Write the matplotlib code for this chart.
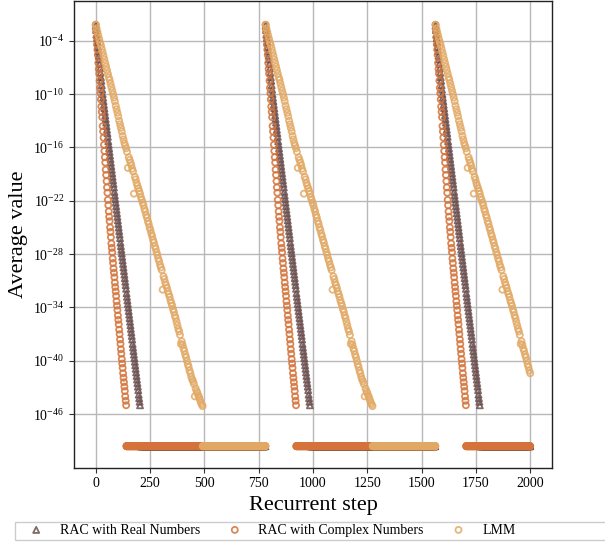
import numpy as np
import matplotlib
matplotlib.use("Agg")
import matplotlib.pyplot as plt
from matplotlib.patches import Rectangle
from matplotlib.ticker import FixedLocator, NullLocator

plt.rcParams['font.family'] = ['Liberation Serif', 'DejaVu Serif']
plt.rcParams['mathtext.fontset'] = 'stix'

# training restarts at these steps, run stops at LAST_STEP
CYCLE_START = [0, 782, 1564]
LAST_STEP = 2000
FLOOR_LOG = -49.6  # value once a method has converged

# log10 of the average value, RAC complex, one entry every 2 steps
COMPLEX_EVERY = 2
COMPLEX_LOG = [
    -2.2, -2.9, -3.6, -4.4, -5.0, -5.6, -6.5, -7.2, -7.7, -8.5,
    -9.3, -9.9, -10.6, -11.4, -12.0, -12.6, -13.6, -14.2, -14.9, -15.7,
    -16.4, -17.1, -17.7, -18.5, -19.1, -19.8, -20.5, -21.1, -21.9, -22.5,
    -23.2, -23.8, -24.3, -25.0, -25.5, -26.1, -26.8, -27.3, -27.8, -28.5,
    -29.0, -29.6, -30.1, -30.6, -31.2, -31.7, -32.2, -32.7, -33.3, -33.8,
    -34.3, -34.9, -35.4, -35.9, -36.5, -37.0, -37.6, -38.1, -38.7, -39.2,
    -39.8, -40.3, -40.8, -41.4, -41.9, -42.4, -42.9, -43.4, -44.0, -44.5,
    -45.0,
]

# RAC real, one entry every 2 steps
REAL_EVERY = 2
REAL_LOG = [
    -2.3, -2.8, -3.3, -3.7, -4.2, -4.7, -5.2, -5.7, -6.1, -6.6,
    -7.1, -7.6, -8.1, -8.5, -9.0, -9.5, -10.0, -10.4, -10.8, -11.2,
    -11.6, -12.0, -12.4, -12.8, -13.2, -13.6, -14.0, -14.4, -14.8, -15.3,
    -15.7, -16.1, -16.5, -16.9, -17.3, -17.7, -18.1, -18.5, -18.9, -19.3,
    -19.7, -20.1, -20.5, -21.0, -21.4, -21.8, -22.2, -22.6, -23.0, -23.4,
    -23.8, -24.2, -24.6, -25.0, -25.4, -25.8, -26.2, -26.7, -27.1, -27.5,
    -27.9, -28.3, -28.7, -29.1, -29.5, -29.9, -30.3, -30.7, -31.1, -31.5,
    -31.9, -32.4, -32.8, -33.2, -33.6, -34.0, -34.4, -34.8, -35.2, -35.6,
    -36.0, -36.4, -36.8, -37.2, -37.6, -38.1, -38.5, -38.9, -39.3, -39.7,
    -40.1, -40.5, -40.9, -41.3, -41.7, -42.1, -42.5, -42.9, -43.3, -43.8,
    -44.2, -44.6, -45.0,
]

# LMM, one entry every 4 steps
LMM_EVERY = 4
LMM_LOG = [
    -2.2, -2.6, -3.0, -3.4, -3.8, -4.2, -4.5, -4.9, -5.3, -5.7,
    -6.1, -6.5, -6.9, -7.3, -7.7, -8.1, -8.4, -8.8, -9.2, -9.6,
    -10.0, -10.4, -10.8, -11.3, -11.7, -12.1, -12.5, -13.0, -13.4, -13.8,
    -14.2, -14.7, -15.1, -15.5, -15.8, -16.1, -16.5, -18.3, -17.1, -17.4,
    -17.7, -18.0, -18.4, -18.7, -21.2, -19.3, -19.6, -20.0, -20.3, -20.6,
    -20.9, -21.2, -21.6, -21.9, -22.2, -22.5, -22.9, -23.2, -23.6, -23.9,
    -24.3, -24.6, -25.0, -25.3, -25.7, -26.0, -26.4, -26.7, -27.1, -27.4,
    -27.8, -28.1, -28.5, -28.8, -29.2, -29.5, -29.8, -32.0, -30.5, -30.8,
    -31.2, -31.5, -31.8, -32.2, -32.5, -32.8, -33.2, -33.5, -33.8, -34.2,
    -34.5, -34.9, -35.2, -35.6, -36.0, -36.4, -36.7, -37.1, -38.1, -37.8,
    -38.2, -38.6, -38.9, -39.3, -39.6, -40.0, -40.4, -40.7, -41.1, -41.4,
    -41.8, -42.1, -42.3, -42.6, -44.0, -43.1, -43.4, -43.6, -43.9, -44.1,
    -44.4, -44.7, -44.9, -45.1,
]

LABELS = ['RAC with Real Numbers', 'RAC with Complex Numbers', 'LMM']
COLORS = ['#6B4F4F', '#D4733A', '#E2A965']
MARKERS = ['^', 'o', 'o']


def build_series(vals, every):
    xs, ys = [], []
    vals = np.array(vals)
    for k, start in enumerate(CYCLE_START):
        if k + 1 < len(CYCLE_START):
            end = CYCLE_START[k + 1] - 1
        else:
            end = LAST_STEP
        steps = start + every * np.arange(len(vals))
        keep = steps <= end
        xs.append(steps[keep])
        ys.append(10.0 ** vals[keep])
        if steps[-1] < end:
            fx = np.arange(steps[-1] + 1, end + 1)
            xs.append(fx)
            ys.append(np.full(len(fx), 10.0 ** FLOOR_LOG))
    return np.concatenate(xs), np.concatenate(ys)


fig = plt.figure(figsize=(6.05, 5.53), dpi=100)
ax = fig.add_axes([0.1223, 0.1546, 0.79, 0.8434])

all_data = [(REAL_LOG, REAL_EVERY), (COMPLEX_LOG, COMPLEX_EVERY), (LMM_LOG, LMM_EVERY)]
for (vals, every), lab, col, mk in zip(all_data, LABELS, COLORS, MARKERS):
    x, y = build_series(vals, every)
    ax.scatter(x, y, s=19, marker=mk, facecolors='none', edgecolors=col,
               linewidths=1.3, alpha=0.85, label=lab, zorder=3)

ax.set_yscale('log')
ax.set_xlim(-100, 2100)
ax.set_ylim(10 ** -52.0, 10 ** 0.46)
ax.yaxis.set_major_locator(FixedLocator([10.0 ** e for e in range(-46, 0, 6)]))
ax.yaxis.set_minor_locator(NullLocator())
ax.set_xticks([0, 250, 500, 750, 1000, 1250, 1500, 1750, 2000])

ax.grid(True, color='#b8b8b8', linewidth=1.0)
ax.set_axisbelow(True)
ax.tick_params(labelsize=10, length=3.5, width=0.8, color='#333333')
for sp in ax.spines.values():
    sp.set_color('#222222')
    sp.set_linewidth(1.0)

ax.set_xlabel('Recurrent step', fontsize=16)
ax.set_ylabel('Average value', fontsize=16)

# legend row below the axes; its frame runs off the right edge
fig.legend(loc='center left', bbox_to_anchor=(0.03, 0.0415), ncol=3,
           fontsize=10, frameon=False, handlelength=1.2, handletextpad=1.1,
           columnspacing=1.9, borderpad=0.2)
fig.patches.append(Rectangle((15 / 605, 1 - 539.5 / 553), 0.99, 18 / 553,
                             transform=fig.transFigure, fill=False,
                             edgecolor='#cccccc', linewidth=1.0))

fig.savefig('out.png', dpi=100)
